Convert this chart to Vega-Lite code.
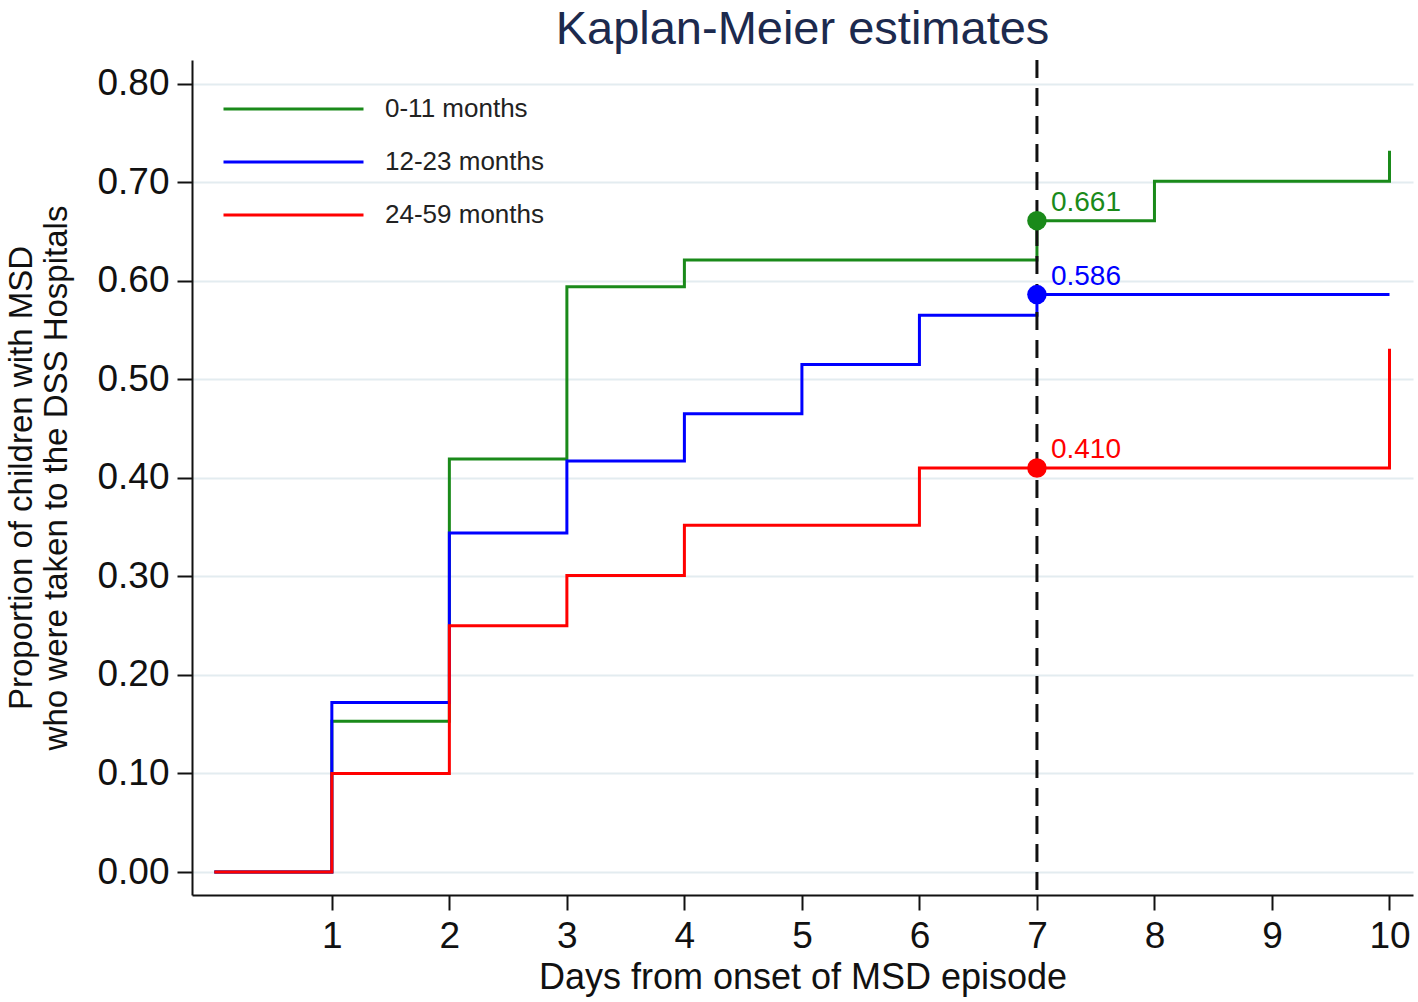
{
  "$schema": "https://vega.github.io/schema/vega-lite/v6.json",
  "width": 1221,
  "height": 835,
  "autosize": "none",
  "padding": {"left": 192, "top": 60, "right": 5, "bottom": 107},
  "background": "white",
  "title": {
    "text": "Kaplan-Meier estimates",
    "fontSize": 47,
    "font": "Liberation Sans",
    "fontWeight": "normal",
    "color": "#1c2a4e",
    "anchor": "middle",
    "offset": 5
  },
  "config": {
    "view": {"stroke": null},
    "axis": {
      "domainColor": "#111111",
      "domainWidth": 2,
      "tickColor": "#111111",
      "tickWidth": 2,
      "tickSize": 15,
      "labelFont": "Liberation Sans",
      "labelFontSize": 37,
      "labelColor": "#111111",
      "titleFont": "Liberation Sans",
      "titleFontWeight": "normal",
      "titleColor": "#111111"
    }
  },
  "datasets": {
    "km": [
      {"group": "0-11 months", "day": 0, "p": 0},
      {"group": "0-11 months", "day": 1, "p": 0.153},
      {"group": "0-11 months", "day": 2, "p": 0.419},
      {"group": "0-11 months", "day": 3, "p": 0.594},
      {"group": "0-11 months", "day": 4, "p": 0.621},
      {"group": "0-11 months", "day": 7, "p": 0.661},
      {"group": "0-11 months", "day": 8, "p": 0.701},
      {"group": "0-11 months", "day": 10, "p": 0.701},
      {"group": "0-11 months", "day": 10, "p": 0.732},
      {"group": "12-23 months", "day": 0, "p": 0},
      {"group": "12-23 months", "day": 1, "p": 0.172},
      {"group": "12-23 months", "day": 2, "p": 0.344},
      {"group": "12-23 months", "day": 3, "p": 0.417},
      {"group": "12-23 months", "day": 4, "p": 0.465},
      {"group": "12-23 months", "day": 5, "p": 0.515},
      {"group": "12-23 months", "day": 6, "p": 0.565},
      {"group": "12-23 months", "day": 7, "p": 0.586},
      {"group": "12-23 months", "day": 10, "p": 0.586},
      {"group": "24-59 months", "day": 0, "p": 0},
      {"group": "24-59 months", "day": 1, "p": 0.1},
      {"group": "24-59 months", "day": 2, "p": 0.25},
      {"group": "24-59 months", "day": 3, "p": 0.301},
      {"group": "24-59 months", "day": 4, "p": 0.352},
      {"group": "24-59 months", "day": 6, "p": 0.41},
      {"group": "24-59 months", "day": 10, "p": 0.41},
      {"group": "24-59 months", "day": 10, "p": 0.531}
    ],
    "day7": [
      {"group": "0-11 months", "day": 7, "p": 0.661, "label": "0.661"},
      {"group": "12-23 months", "day": 7, "p": 0.586, "label": "0.586"},
      {"group": "24-59 months", "day": 7, "p": 0.41, "label": "0.410"}
    ],
    "ref": [{"day": 7}]
  },
  "layer": [
    {
      "data": {"name": "km"},
      "mark": {"type": "line", "interpolate": "step-after", "strokeWidth": 3},
      "encoding": {
        "x": {
          "field": "day", "type": "quantitative",
          "scale": {"domain": [-0.19, 10.2], "nice": false, "zero": false},
          "axis": {
            "values": [1, 2, 3, 4, 5, 6, 7, 8, 9, 10],
            "format": "d",
            "grid": false,
            "labelPadding": 8,
            "title": "Days from onset of MSD episode",
            "titleFontSize": 36,
            "titlePadding": 6
          }
        },
        "y": {
          "field": "p", "type": "quantitative",
          "scale": {"domain": [-0.0233, 0.824], "nice": false, "zero": false},
          "axis": {
            "values": [0, 0.1, 0.2, 0.3, 0.4, 0.5, 0.6, 0.7, 0.8],
            "format": ".2f",
            "grid": true,
            "gridColor": "#e3ecf0",
            "gridWidth": 2,
            "labelPadding": 8,
            "title": ["Proportion of children with MSD", "who were taken to the DSS Hospitals"],
            "titleFontSize": 33,
            "titleLineHeight": 35,
            "titlePadding": 23
          }
        },
        "color": {
          "field": "group", "type": "nominal",
          "scale": {
            "domain": ["0-11 months", "12-23 months", "24-59 months"],
            "range": ["#1a8a1a", "#0000ff", "#ff0000"]
          },
          "legend": {
            "title": null,
            "orient": "none",
            "legendX": 30,
            "legendY": 34,
            "padding": 0,
            "symbolType": "stroke",
            "symbolSize": 19600,
            "symbolStrokeWidth": 3,
            "clipHeight": 30,
            "rowPadding": 23,
            "labelFont": "Liberation Sans",
            "labelFontSize": 26,
            "labelColor": "#222222",
            "labelOffset": 20
          }
        }
      }
    },
    {
      "data": {"name": "ref"},
      "mark": {"type": "rule", "color": "#111111", "strokeWidth": 3, "strokeDash": [18, 10]},
      "encoding": {"x": {"field": "day", "type": "quantitative"}}
    },
    {
      "data": {"name": "day7"},
      "mark": {"type": "point", "filled": true, "opacity": 1, "size": 380},
      "encoding": {
        "x": {"field": "day", "type": "quantitative"},
        "y": {"field": "p", "type": "quantitative"},
        "color": {"field": "group", "type": "nominal", "legend": null}
      }
    },
    {
      "data": {"name": "day7"},
      "mark": {"type": "text", "align": "left", "baseline": "bottom", "dx": 14, "dy": -4, "fontSize": 28, "font": "Liberation Sans"},
      "encoding": {
        "x": {"field": "day", "type": "quantitative"},
        "y": {"field": "p", "type": "quantitative"},
        "text": {"field": "label"},
        "color": {"field": "group", "type": "nominal", "legend": null}
      }
    }
  ]
}
